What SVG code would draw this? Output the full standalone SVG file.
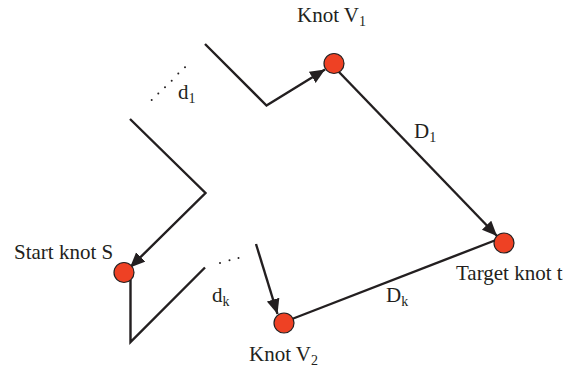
<svg xmlns="http://www.w3.org/2000/svg" width="575" height="370" viewBox="0 0 575 370">
<style>
.ln{fill:none;stroke:#231f20;stroke-width:2.4;stroke-linejoin:miter}
.kn{fill:#ee4124;stroke:#231f20;stroke-width:1.2}
.t{font-family:"Liberation Serif","Times New Roman",serif;font-size:21px;fill:#231f20}
.s{font-size:14px}
.dot{fill:#231f20}
</style>
<defs>
<marker id="ah" markerWidth="16" markerHeight="14" refX="15" refY="6.5" orient="auto" markerUnits="userSpaceOnUse">
<path d="M0,0 L15,6.5 L0,13 Z" fill="#231f20"/>
</marker>
</defs>
<g id="connectors">
<polyline class="ln" points="205,44 266.5,105.5 325,69.5" marker-end="url(#ah)"/>
<polyline class="ln" points="130,119 205.5,193 130,267.5" marker-end="url(#ah)"/>
<polyline class="ln" points="130.5,280 130.5,342 205,267.5"/>
<line class="ln" x1="256" y1="244" x2="277.5" y2="314" marker-end="url(#ah)"/>
<line class="ln" x1="339" y1="72" x2="497" y2="236" marker-end="url(#ah)"/>
<line class="ln" x1="292" y1="319" x2="496" y2="240"/>
</g>
<g id="dots">
<circle class="dot" cx="151.7" cy="100" r="1"/>
<circle class="dot" cx="158.3" cy="93.5" r="1"/>
<circle class="dot" cx="165" cy="87.3" r="1"/>
<circle class="dot" cx="171.7" cy="80.7" r="1"/>
<circle class="dot" cx="178.3" cy="73.5" r="1"/>
<circle class="dot" cx="185" cy="67.3" r="1"/>
<circle class="dot" cx="220" cy="263" r="1"/>
<circle class="dot" cx="229.5" cy="260.3" r="1"/>
<circle class="dot" cx="238.5" cy="258" r="1"/>
</g>
<g id="knot-v1">
<circle class="kn" cx="334" cy="63.5" r="10"/>
<text class="t" x="297" y="22">Knot V<tspan class="s" dy="4">1</tspan></text>
</g>
<g id="start-s">
<circle class="kn" cx="124" cy="272.5" r="10"/>
<text class="t" x="14" y="259">Start knot S</text>
</g>
<g id="target-t">
<circle class="kn" cx="504" cy="243" r="10"/>
<text class="t" x="456" y="280">Target knot t</text>
</g>
<g id="knot-v2">
<circle class="kn" cx="284" cy="323" r="10"/>
<text class="t" x="249" y="361">Knot V<tspan class="s" dy="4">2</tspan></text>
</g>
<g id="labels">
<text class="t" x="414" y="138">D<tspan class="s" dy="4">1</tspan></text>
<text class="t" x="386" y="302">D<tspan class="s" dy="4">k</tspan></text>
<text class="t" x="178" y="99">d<tspan class="s" dy="4">1</tspan></text>
<text class="t" x="212" y="302">d<tspan class="s" dy="4">k</tspan></text>
</g>
</svg>
